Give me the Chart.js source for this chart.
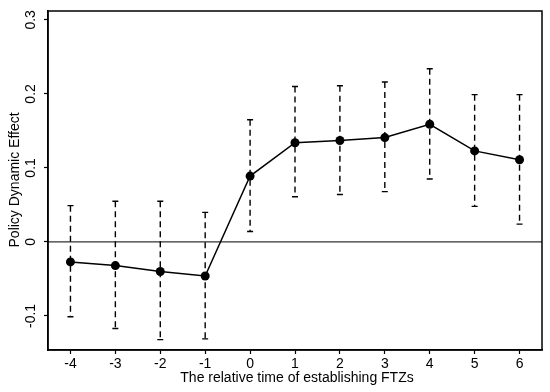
<!DOCTYPE html>
<html><head><meta charset="utf-8">
<script src="https://cdn.jsdelivr.net/npm/chart.js@4/dist/chart.umd.min.js"></script>
<style>html,body{margin:0;padding:0;background:#fff}#wrap{width:550px;height:392px}</style>
</head><body><div id="wrap"><canvas id="c" width="550" height="392"></canvas></div>
<script>
const periods = [-4, -3, -2, -1, 0, 1, 2, 3, 4, 5, 6];
const estimates = [-0.027, -0.032, -0.040, -0.046, 0.089, 0.134, 0.137, 0.141, 0.159, 0.123, 0.111];
const upperCI = [0.049, 0.055, 0.055, 0.040, 0.165, 0.210, 0.211, 0.216, 0.234, 0.199, 0.199];
const lowerCI = [-0.101, -0.117, -0.132, -0.131, 0.014, 0.061, 0.064, 0.068, 0.085, 0.048, 0.024];
const xTicks = [-4, -3, -2, -1, 0, 1, 2, 3, 4, 5, 6];
const yTicks = [-0.1, 0, 0.1, 0.2, 0.3];
const yTickLabels = ['-0.1', '0', '0.1', '0.2', '0.3'];
const xTitle = 'The relative time of establishing FTZs';
const yTitle = 'Policy Dynamic Effect';

const FONT = '14px "Liberation Sans", Arial, sans-serif';

const errPlugin = {
  id: 'errbars',
  beforeDatasetsDraw(chart) {
    const ctx = chart.ctx, xs = chart.scales.x, ys = chart.scales.y, a = chart.chartArea;
    ctx.save();
    ctx.strokeStyle = '#333'; ctx.lineWidth = 1.3;
    const y0 = ys.getPixelForValue(0);
    ctx.beginPath(); ctx.moveTo(a.left, y0); ctx.lineTo(a.right, y0); ctx.stroke();
    ctx.strokeStyle = '#000'; ctx.lineWidth = 1.4;
    periods.forEach((p, i) => {
      const x = xs.getPixelForValue(p);
      const yu = ys.getPixelForValue(upperCI[i]);
      const yl = ys.getPixelForValue(lowerCI[i]);
      ctx.setLineDash([6, 4]);
      ctx.beginPath(); ctx.moveTo(x, yu); ctx.lineTo(x, yl); ctx.stroke();
      ctx.setLineDash([]);
      ctx.beginPath();
      ctx.moveTo(x - 3, yu); ctx.lineTo(x + 3, yu);
      ctx.moveTo(x - 3, yl); ctx.lineTo(x + 3, yl);
      ctx.stroke();
    });
    ctx.restore();
  },
  afterDraw(chart) {
    const ctx = chart.ctx, a = chart.chartArea, xs = chart.scales.x, ys = chart.scales.y;
    ctx.save();
    ctx.strokeStyle = '#000'; ctx.lineWidth = 1.5;
    ctx.strokeRect(a.left, a.top, a.right - a.left, a.bottom - a.top);
    ctx.fillStyle = '#000'; ctx.font = FONT;
    ctx.textAlign = 'center'; ctx.textBaseline = 'middle';
    xTicks.forEach(v => ctx.fillText(String(v), xs.getPixelForValue(v), a.bottom + 14));
    ctx.fillText(xTitle, (a.left + a.right) / 2 + 2, a.bottom + 28);
    yTicks.forEach((v, i) => {
      ctx.save();
      ctx.translate(a.left - 17, ys.getPixelForValue(v));
      ctx.rotate(-Math.PI / 2);
      ctx.fillText(yTickLabels[i], 0, 0);
      ctx.restore();
    });
    ctx.save();
    ctx.translate(15, ys.getPixelForValue(0.1) + 12);
    ctx.rotate(-Math.PI / 2);
    ctx.fillText(yTitle, 0, 0);
    ctx.restore();
    ctx.restore();
  }
};

new Chart(document.getElementById('c'), {
  type: 'line',
  data: {
    datasets: [{
      data: periods.map((p, i) => ({x: p, y: estimates[i]})),
      borderColor: '#000', backgroundColor: '#000', borderWidth: 1.5,
      pointRadius: 4.5, pointBackgroundColor: '#000', pointBorderWidth: 0,
      tension: 0
    }]
  },
  options: {
    responsive: false, animation: false,
    layout: {padding: {top: 11, right: 8, left: 0, bottom: 0}},
    plugins: {legend: {display: false}, tooltip: {enabled: false}},
    scales: {
      x: {
        type: 'linear', min: -4.5, max: 6.5,
        afterBuildTicks: s => { s.ticks = xTicks.map(v => ({value: v})); },
        afterFit: s => { s.height = 42; },
        grid: {drawOnChartArea: false, drawTicks: true, tickLength: 4, tickColor: '#000', tickWidth: 1.2},
        border: {display: true, color: '#000', width: 1.5},
        ticks: {display: false}
      },
      y: {
        type: 'linear', min: -0.146, max: 0.312,
        afterBuildTicks: s => { s.ticks = yTicks.map(v => ({value: v})); },
        afterFit: s => { s.width = 48; },
        grid: {drawOnChartArea: false, drawTicks: true, tickLength: 4, tickColor: '#000', tickWidth: 1.2},
        border: {display: true, color: '#000', width: 1.5},
        ticks: {display: false}
      }
    }
  },
  plugins: [errPlugin]
});
</script></body></html>
